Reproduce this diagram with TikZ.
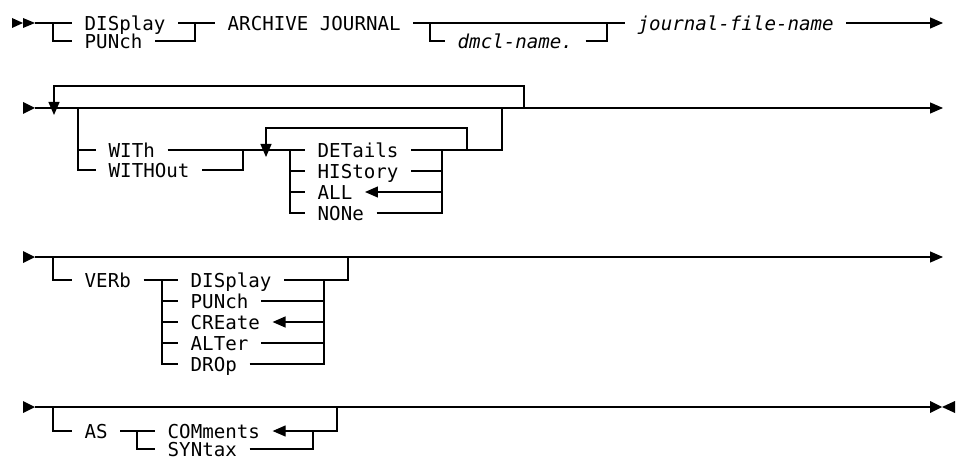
\documentclass[tikz,border=0pt]{standalone}
\usepackage{fontspec}
\newfontfamily\rrmono{DejaVu Sans Mono}
\usetikzlibrary{arrows.meta}
\tikzset{
  kw/.style={anchor=west, inner xsep=12.5pt, inner ysep=0pt, text height=15pt, text depth=0pt,
    font=\rrmono\fontsize{19.15}{20}\selectfont},
  var/.style={kw, font=\rrmono\itshape\fontsize{19.15}{20}\selectfont},
  rail/.style={line width=1.2pt},
  tip/.style={-{Triangle[length=13pt,width=11pt]}},
}
\begin{document}
\begin{tikzpicture}[x=1pt,y=-1pt]
\useasboundingbox (0,0) rectangle (960,457);
% ---------- Row 1 ----------
\fill (12,18) -- (23,23) -- (12,28) -- cycle;
\fill (23,18) -- (35,23) -- (23,28) -- cycle;
\node[kw] (dis1) at (72,23) {DISplay};
\node[kw] (pun1) at (72,41) {PUNch};
\node[kw] (arch) at (215,23) {ARCHIVE JOURNAL};
\node[var] (dmcl) at (445,41) {dmcl-name.};
\node[var] (jfn) at (625,23) {journal-file-name};
\coordinate (s1) at (35,23);
\coordinate (e1) at (943,23);
\draw[rail] (s1) -- (dis1.west);
\draw[rail] (53,23) |- (pun1.west);
\draw[rail] (dis1.east) -- (arch.west);
\draw[rail] (pun1.east) -| (195,23);
\draw[rail] (arch.east) -- (jfn.west);
\draw[rail] (430,23) |- (dmcl.west);
\draw[rail] (dmcl.east) -| (607,23);
\draw[rail,tip] (jfn.east) -- (e1);
% ---------- Row 2 ----------
\fill (23,102) -- (35,108) -- (23,114) -- cycle;
\coordinate (s2) at (35,108);
\coordinate (e2) at (943,108);
\draw[rail,tip] (s2) -- (e2);
\draw[rail,tip] (524,108) |- (54,86) -- (54,115);
\node[kw] (with) at (96,150) {WITh};
\node[kw] (without) at (96,170) {WITHOut};
\draw[rail] (78,108) |- (without.west);
\draw[rail] (78,150) -- (with.west);
\node[kw] (det) at (305,150) {DETails};
\node[kw] (his) at (305,171) {HIStory};
\node[kw] (all) at (305,192) {ALL};
\node[kw] (none) at (305,213) {NONe};
\draw[rail] (with.east) -- (det.west);
\draw[rail] (without.east) -| (243,150);
\draw[rail,tip] (467,150) |- (266,128) -- (266,157);
\draw[rail] (290,150) |- (none.west);
\draw[rail] (290,171) -- (his.west);
\draw[rail] (290,192) -- (all.west);
\draw[rail] (det.east) -| (502,108);
\draw[rail] (none.east) -| (442,150);
\draw[rail] (his.east) -- (442,171);
\draw[rail,tip] (442,192) -- (all.east);
% ---------- Row 3 ----------
\fill (23,251) -- (35,257) -- (23,263) -- cycle;
\coordinate (s3) at (35,257);
\coordinate (e3) at (943,257);
\draw[rail,tip] (s3) -- (e3);
\node[kw] (verb) at (72,280) {VERb};
\draw[rail] (53,257) |- (verb.west);
\node[kw] (dis2) at (178,280) {DISplay};
\node[kw] (pun2) at (178,301) {PUNch};
\node[kw] (cre) at (178,322) {CREate};
\node[kw] (alt) at (178,343) {ALTer};
\node[kw] (drop) at (178,364) {DROp};
\draw[rail] (verb.east) -- (dis2.west);
\draw[rail] (162,280) |- (drop.west);
\draw[rail] (162,301) -- (pun2.west);
\draw[rail] (162,322) -- (cre.west);
\draw[rail] (162,343) -- (alt.west);
\draw[rail] (dis2.east) -| (348,257);
\draw[rail] (drop.east) -| (324,280);
\draw[rail] (pun2.east) -- (324,301);
\draw[rail,tip] (324,322) -- (cre.east);
\draw[rail] (alt.east) -- (324,343);
% ---------- Row 4 ----------
\fill (23,401) -- (35,407) -- (23,413) -- cycle;
\coordinate (s4) at (35,407);
\coordinate (e4) at (930,407);
\draw[rail] (s4) -- (e4);
\fill (930,401) -- (942,407) -- (930,413) -- cycle;
\fill (955,401) -- (942,407) -- (955,413) -- cycle;
\node[kw] (as) at (72,431) {AS};
\draw[rail] (53,407) |- (as.west);
\node[kw] (com) at (155,431) {COMments};
\node[kw] (syn) at (155,449) {SYNtax};
\draw[rail] (as.east) -- (com.west);
\draw[rail] (137,431) |- (syn.west);
\draw[rail,tip] (313,431) -- (com.east);
\draw[rail] (313,431) -| (337,407);
\draw[rail] (syn.east) -| (313,431);
\end{tikzpicture}
\end{document}
